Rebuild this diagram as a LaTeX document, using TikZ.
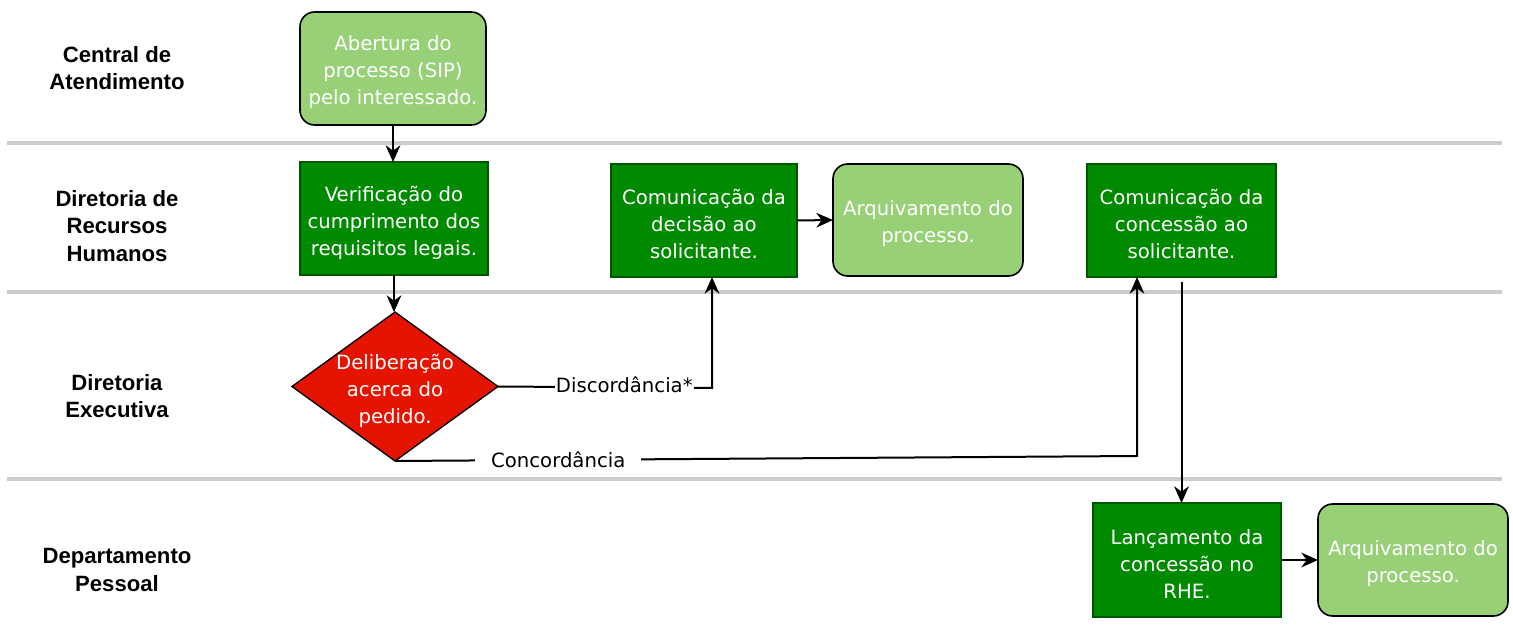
\documentclass[tikz,border=0pt]{standalone}
\usepackage{fontspec}
\setmainfont{DejaVu Sans}
\newfontfamily\lanefont{Liberation Sans}
\usetikzlibrary{arrows.meta,shapes.geometric}
\definecolor{lightg}{HTML}{97D077}
\definecolor{darkg}{HTML}{008A00}
\definecolor{darkgb}{HTML}{005700}
\definecolor{redf}{HTML}{E51400}
\definecolor{laneg}{HTML}{CCCCCC}
\tikzset{
  boxtext/.style={font=\fontsize{14.75pt}{20.25pt}\selectfont, text=white, align=center, inner sep=0pt, outer sep=0pt, yshift=-3pt},
  shapebox/.style={inner sep=0pt, outer sep=0pt},
  softbox/.style={shapebox, draw=black, line width=1.2pt, fill=lightg, rounded corners=11pt},
  hardbox/.style={shapebox, draw=darkgb, line width=1pt, fill=darkg},
  decbox/.style={shapebox, diamond, aspect=1.3826, draw=black, line width=1pt, fill=redf, minimum width=206*0.75pt, minimum height=149*0.75pt},
  lanelabel/.style={font=\lanefont\bfseries\fontsize{16.6pt}{20.6pt}\selectfont, align=center},
  lanesep/.style={draw=laneg, line width=3pt},
  arr/.style={draw=black, line width=1.5pt, -{Stealth[length=12.5pt,width=11pt,inset=4pt]}},
  elabel/.style={font=\fontsize{14.75pt}{20.25pt}\selectfont, fill=white, inner ysep=1pt}
}
\begin{document}
\begin{tikzpicture}[x=0.75pt,y=-0.75pt]
\useasboundingbox (0,0) rectangle (1513,634);
% lane separators
\draw[lanesep] (7,143) -- (1502,143);
\draw[lanesep] (7,292) -- (1502,292);
\draw[lanesep] (7,479) -- (1502,479);
% lane labels
\node[lanelabel] (l1) at (117,68) {Central de\\Atendimento};
\node[lanelabel] (l2) at (117,226) {Diretoria de\\Recursos\\Humanos};
\node[lanelabel] (l3) at (117,396) {Diretoria\\Executiva};
\node[lanelabel] (l4) at (117,570) {Departamento\\Pessoal};
% shapes
\node[softbox, minimum width=186*0.75pt, minimum height=113*0.75pt] (ab) at (393,68.5) {};
\node[hardbox, minimum width=188*0.75pt, minimum height=113*0.75pt] (ver) at (394,218.5) {};
\node[decbox] (dia) at (395,386.5) {};
\node[hardbox, minimum width=186*0.75pt, minimum height=113*0.75pt] (dec) at (704,220.5) {};
\node[softbox, minimum width=190*0.75pt, minimum height=112*0.75pt] (arq1) at (928,220) {};
\node[hardbox, minimum width=189*0.75pt, minimum height=113*0.75pt] (con) at (1181.5,220.5) {};
\node[hardbox, minimum width=188*0.75pt, minimum height=114*0.75pt] (lan) at (1187,560) {};
\node[softbox, minimum width=190*0.75pt, minimum height=112*0.75pt] (arq2) at (1413,560) {};
% texts
\node[boxtext] (abt) at (ab.center) {Abertura do\\processo (SIP)\\pelo interessado.};
\node[boxtext] (vert) at (ver.center) {Verificação do\\cumprimento dos\\requisitos legais.};
\node[boxtext] (diat) at (dia.center) {Deliberação\\acerca do\\pedido.};
\node[boxtext] (dect) at (dec.center) {Comunicação da\\decisão ao\\solicitante.};
\node[boxtext] (arq1t) at (arq1.center) {Arquivamento do\\processo.};
\node[boxtext] (cont) at (con.center) {Comunicação da\\concessão ao\\solicitante.};
\node[boxtext] (lant) at (lan.center) {Lançamento da\\concessão no\\RHE.};
\node[boxtext] (arq2t) at (arq2.center) {Arquivamento do\\processo.};
% bend points
\coordinate (k1) at (712,388);
\coordinate (k2) at (1137,456);
% connectors
\draw[arr] (ab.south) -- (ab.south |- ver.north);
\draw[arr] (ver.south) -- (ver.south |- dia.north);
\draw[arr] (dia.east) -- node[elabel, pos=0.59, inner xsep=1pt, yshift=2pt] {Discordância*} (k1) -- (k1 |- dec.south);
\draw[arr] (dia.south) -- node[elabel, pos=0.22, inner xsep=16*0.75pt] {Concordância} (k2) -- (k2 |- con.south);
\draw[arr] (dec.east) -- (arq1.west);
\draw[arr] ([yshift=-4pt]con.south) -- (con.south |- lan.north);
\draw[arr] (lan.east) -- (arq2.west);
\end{tikzpicture}
\end{document}
